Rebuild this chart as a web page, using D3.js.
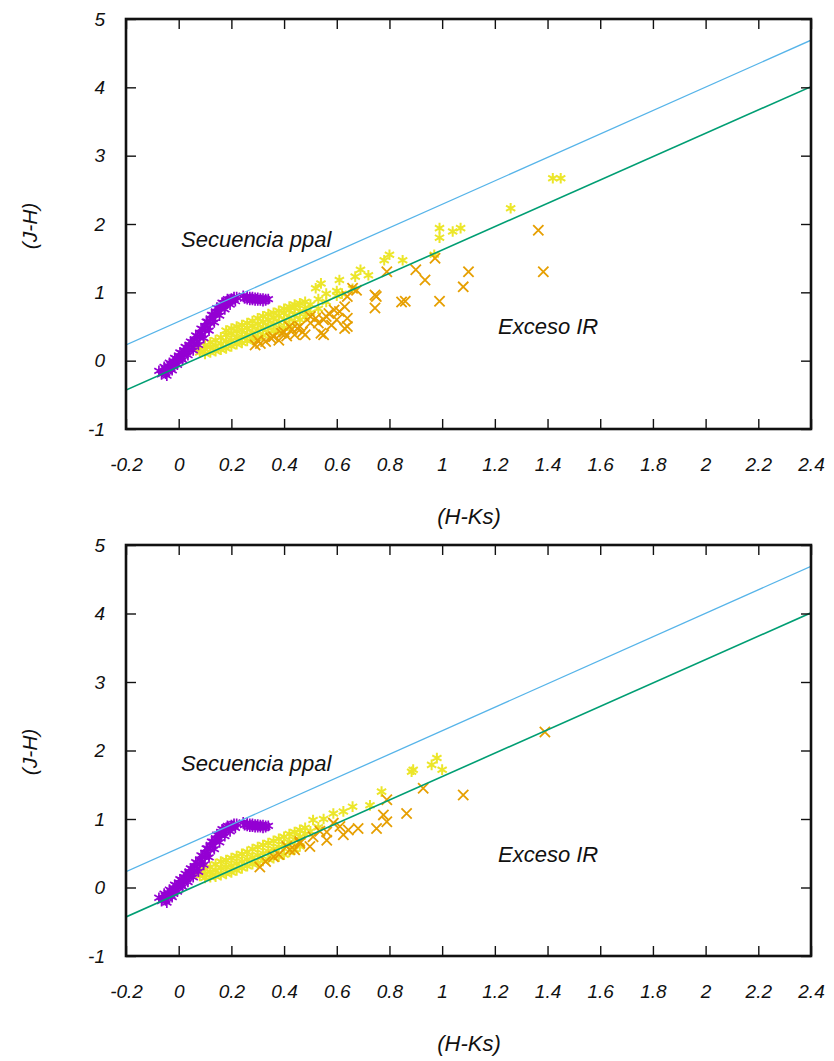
<!DOCTYPE html>
<html><head><meta charset="utf-8">
<script src="https://cdn.jsdelivr.net/npm/d3@7"></script>
<style>
html,body{margin:0;padding:0;background:#fff;}
text{font-family:"Liberation Sans",Arial,Helvetica,sans-serif;font-style:italic;fill:#111;}
</style></head>
<body><svg id="chart" width="834" height="1061"></svg>
<script>
// ---------- data ----------
const xTicks = [-0.2, 0, 0.2, 0.4, 0.6, 0.8, 1, 1.2, 1.4, 1.6, 1.8, 2, 2.2, 2.4];
const yTicks = [-1, 0, 1, 2, 3, 4, 5];
const xLabel = "(H-Ks)";
const yLabel = "(J-H)";
const labelSeq = "Secuencia ppal";
const labelExc = "Exceso IR";

// reddening band limits (x at ends, y at ends)
const bandX = [-0.2, 2.4];
const upperBandY = [0.23, 4.69];
const lowerBandY = [-0.43, 4.01];

// intrinsic main-sequence / giant locus (purple)
const locus = [
  [-0.065,-0.20],[-0.06,-0.16],[-0.05,-0.19],[-0.05,-0.12],[-0.04,-0.15],[-0.04,-0.08],[-0.03,-0.11],[-0.03,-0.05],
  [-0.02,-0.08],[-0.02,-0.01],[-0.01,-0.04],[-0.01,0.03],[0.0,0.0],[0.0,0.07],[0.01,0.04],[0.01,0.11],
  [0.02,0.08],[0.02,0.15],[0.03,0.12],[0.03,0.19],[0.04,0.16],[0.04,0.23],[0.05,0.20],[0.05,0.27],
  [0.06,0.24],[0.06,0.31],[0.07,0.28],[0.07,0.36],[0.08,0.33],[0.08,0.41],[0.09,0.38],[0.09,0.46],
  [0.10,0.44],[0.10,0.51],[0.11,0.49],[0.11,0.57],[0.12,0.55],[0.12,0.62],[0.13,0.61],[0.13,0.67],
  [0.14,0.67],[0.14,0.72],[0.15,0.72],[0.15,0.77],[0.16,0.76],[0.16,0.81],[0.17,0.80],[0.17,0.84],
  [0.18,0.84],[0.18,0.87],[0.19,0.86],[0.19,0.89],[0.20,0.88],[0.20,0.91],[0.21,0.90],[0.21,0.93],[0.22,0.93],
  [-0.045,-0.22],[-0.025,-0.14],[-0.005,-0.06],[0.015,0.01],[0.035,0.08],[0.055,0.15],[0.075,0.23],
  [0.095,0.33],[0.115,0.44],[0.135,0.56],[0.155,0.66],[0.175,0.75],[0.195,0.82],[0.215,0.87],
  [-0.075,-0.15],[-0.055,-0.09],[-0.035,-0.03],[-0.015,0.04],[0.005,0.12],[0.025,0.20],[0.045,0.28],
  [0.065,0.37],[0.085,0.47],[0.105,0.57],[0.125,0.67],[0.145,0.77],[0.165,0.85],[0.185,0.90],
  [0.245,0.95],[0.25,0.91],[0.26,0.94],[0.26,0.90],[0.27,0.93],[0.27,0.89],[0.28,0.93],[0.28,0.89],
  [0.29,0.92],[0.29,0.88],[0.30,0.92],[0.30,0.88],[0.31,0.91],[0.31,0.88],[0.32,0.91],[0.32,0.87],
  [0.33,0.90],[0.33,0.88],[0.34,0.90]
];

// top panel: yellow (CTTS-like) and orange (IR excess) stars
const topYellow = [
  [0.08,0.12],[0.08,0.16],[0.10,0.10],[0.10,0.17],[0.10,0.22],[0.12,0.12],[0.12,0.20],[0.12,0.27],
  [0.14,0.14],[0.14,0.22],[0.14,0.30],[0.16,0.16],[0.16,0.25],[0.16,0.34],[0.18,0.18],[0.18,0.28],[0.18,0.38],[0.18,0.44],
  [0.20,0.21],[0.20,0.30],[0.20,0.40],[0.20,0.47],[0.22,0.24],[0.22,0.33],[0.22,0.43],[0.22,0.50],
  [0.24,0.26],[0.24,0.35],[0.24,0.45],[0.24,0.52],[0.26,0.29],[0.26,0.38],[0.26,0.48],[0.26,0.55],
  [0.28,0.31],[0.28,0.41],[0.28,0.51],[0.28,0.58],[0.30,0.34],[0.30,0.44],[0.30,0.54],[0.30,0.62],
  [0.32,0.37],[0.32,0.47],[0.32,0.57],[0.32,0.65],[0.34,0.40],[0.34,0.50],[0.34,0.60],[0.34,0.68],
  [0.36,0.43],[0.36,0.53],[0.36,0.63],[0.36,0.70],[0.38,0.45],[0.38,0.56],[0.38,0.66],[0.38,0.73],
  [0.40,0.48],[0.40,0.60],[0.40,0.70],[0.40,0.76],[0.42,0.52],[0.42,0.63],[0.42,0.74],[0.42,0.79],
  [0.44,0.56],[0.44,0.67],[0.44,0.78],[0.44,0.82],[0.46,0.60],[0.46,0.72],[0.46,0.84],[0.48,0.64],[0.48,0.76],[0.48,0.86],
  [0.50,0.70],[0.50,0.82],[0.53,0.76],[0.53,0.90],[0.56,0.86],[0.56,0.98],[0.60,0.95],[0.60,1.02],
  [0.52,1.06],[0.54,1.13],[0.61,1.18],[0.62,0.98],[0.66,1.05],[0.67,1.23],[0.69,1.33],[0.72,1.25],
  [0.78,1.47],[0.80,1.55],[0.85,1.47],[0.97,1.55],[0.99,1.94],[1.04,1.89],[1.07,1.94],[0.99,1.80],
  [1.26,2.23],[1.42,2.67],[1.45,2.67]
];
const topOrange = [
  [0.29,0.23],[0.31,0.25],[0.30,0.30],[0.33,0.28],[0.35,0.33],[0.36,0.35],[0.38,0.30],[0.39,0.40],
  [0.40,0.42],[0.41,0.36],[0.42,0.50],[0.43,0.46],[0.44,0.38],[0.45,0.47],[0.46,0.50],[0.47,0.42],
  [0.48,0.38],[0.50,0.55],[0.50,0.645],[0.52,0.62],[0.53,0.55],[0.54,0.40],[0.55,0.60],[0.55,0.38],
  [0.56,0.645],[0.57,0.69],[0.58,0.52],[0.59,0.74],[0.60,0.60],[0.61,0.72],[0.63,0.79],[0.63,0.47],
  [0.64,0.62],[0.64,0.94],[0.64,0.50],[0.66,1.06],[0.675,1.03],[0.745,0.96],[0.745,0.77],[0.75,0.94],
  [0.79,1.30],[0.846,0.86],[0.86,0.87],[0.90,1.33],[0.935,1.18],[0.973,1.50],[0.99,0.87],[1.08,1.08],
  [1.10,1.30],[1.365,1.91],[1.384,1.30]
];

// bottom panel
const botYellow = [
  [0.08,0.17],[0.08,0.22],[0.10,0.14],[0.10,0.20],[0.10,0.26],[0.12,0.15],[0.12,0.23],[0.12,0.30],
  [0.14,0.16],[0.14,0.25],[0.14,0.34],[0.16,0.18],[0.16,0.28],[0.16,0.38],[0.18,0.20],[0.18,0.30],[0.18,0.40],
  [0.20,0.22],[0.20,0.32],[0.20,0.43],[0.22,0.25],[0.22,0.35],[0.22,0.46],[0.24,0.28],[0.24,0.38],[0.24,0.49],
  [0.26,0.31],[0.26,0.41],[0.26,0.52],[0.28,0.34],[0.28,0.44],[0.28,0.56],[0.30,0.36],[0.30,0.47],[0.30,0.59],
  [0.32,0.39],[0.32,0.50],[0.32,0.62],[0.34,0.41],[0.34,0.53],[0.34,0.65],[0.36,0.43],[0.36,0.56],[0.36,0.68],
  [0.38,0.45],[0.38,0.59],[0.38,0.71],[0.40,0.48],[0.40,0.62],[0.40,0.74],[0.42,0.52],[0.42,0.66],[0.42,0.78],
  [0.44,0.56],[0.44,0.70],[0.44,0.81],[0.46,0.60],[0.46,0.74],[0.46,0.84],[0.48,0.78],[0.48,0.87],
  [0.50,0.82],[0.51,0.985],[0.53,0.88],[0.55,1.0],[0.587,1.08],[0.625,1.11],[0.66,1.18],[0.726,1.20],
  [0.77,1.40],[0.884,1.69],[0.89,1.72],[0.96,1.79],[0.98,1.89],[1.0,1.72]
];
const botOrange = [
  [0.308,0.30],[0.33,0.38],[0.36,0.45],[0.38,0.48],[0.41,0.60],[0.422,0.55],[0.44,0.55],[0.46,0.645],
  [0.46,0.67],[0.498,0.60],[0.51,0.74],[0.536,0.82],[0.562,0.69],[0.562,0.81],[0.587,0.94],[0.612,0.89],
  [0.625,0.77],[0.644,0.84],[0.681,0.86],[0.751,0.86],[0.777,1.06],[0.79,0.96],[0.79,1.28],[0.865,1.08],
  [0.928,1.45],[1.08,1.35],[1.39,2.27]
];

// ---------- drawing ----------
const svg = d3.select("#chart");
svg.append("rect").attr("width",834).attr("height",1061).attr("fill","#fff");

const colors = {locus:"#9400d3", yellow:"#ece62a", orange:"#e69f00", upper:"#56b4e9", lower:"#009e73"};

const panels = [
  {top:19, bottom:429, yellow:topYellow, orange:topOrange, seqY:247, excY:334, yLabY:226, xLabY:524},
  {top:545, bottom:956, yellow:botYellow, orange:botOrange, seqY:771, excY:862, yLabY:752, xLabY:1051}
];
const left = 126, right = 811;

const asterisk = d3.symbol().type(d3.symbolAsterisk).size(80)();
const cross = d3.symbol().type(d3.symbolX).size(70)();
const fmt = d => d3.format("~g")(d).replace("\u2212","-");

panels.forEach((p,i) => {
  const x = d3.scaleLinear().domain([-0.2, 2.4]).range([left, right]);
  const y = d3.scaleLinear().domain([-1, 5]).range([p.bottom, p.top]);
  const g = svg.append("g");
  const clipId = "clip"+i;
  g.append("clipPath").attr("id",clipId).append("rect")
    .attr("x",left).attr("y",p.top).attr("width",right-left).attr("height",p.bottom-p.top);
  const plot = g.append("g").attr("clip-path",`url(#${clipId})`);

  plot.append("g").selectAll("path").data(p.yellow).join("path")
    .attr("d", asterisk).attr("transform", d=>`translate(${x(d[0])},${y(d[1])})`)
    .attr("fill","none").attr("stroke",colors.yellow).attr("stroke-width",2);
  plot.append("g").selectAll("path").data(p.orange).join("path")
    .attr("d", cross).attr("transform", d=>`translate(${x(d[0])},${y(d[1])})`)
    .attr("fill","none").attr("stroke",colors.orange).attr("stroke-width",1.8);
  plot.append("g").selectAll("path").data(locus).join("path")
    .attr("d", asterisk).attr("transform", d=>`translate(${x(d[0])},${y(d[1])})`)
    .attr("fill","none").attr("stroke",colors.locus).attr("stroke-width",1.7);

  const line = d3.line().x(d=>x(d[0])).y(d=>y(d[1]));
  plot.append("path").datum(bandX.map((v,k)=>[v, upperBandY[k]])).attr("d",line)
    .attr("fill","none").attr("stroke",colors.upper).attr("stroke-width",1.3);
  plot.append("path").datum(bandX.map((v,k)=>[v, lowerBandY[k]])).attr("d",line)
    .attr("fill","none").attr("stroke",colors.lower).attr("stroke-width",1.6);

  // axes (ticks inward, mirrored)
  const tl = 10;
  const axB = d3.axisBottom(x).tickValues(xTicks).tickSize(-tl).tickPadding(29).tickFormat(fmt);
  const axT = d3.axisTop(x).tickValues(xTicks).tickSize(-tl).tickFormat("");
  const axL = d3.axisLeft(y).tickValues(yTicks).tickSize(-tl).tickPadding(21).tickFormat(fmt);
  const axR = d3.axisRight(y).tickValues(yTicks).tickSize(-tl).tickFormat("");
  const gb = g.append("g").attr("transform",`translate(0,${p.bottom})`).call(axB);
  const gt = g.append("g").attr("transform",`translate(0,${p.top})`).call(axT);
  const gl = g.append("g").attr("transform",`translate(${left},0)`).call(axL);
  const gr = g.append("g").attr("transform",`translate(${right},0)`).call(axR);
  [gb,gt,gl,gr].forEach(a=>{
    a.select(".domain").remove();
    a.selectAll(".tick line").attr("stroke","#111").attr("stroke-width",1.4);
    a.selectAll("text").attr("font-size",19).attr("font-family",'"Liberation Sans",Arial,sans-serif')
      .attr("font-style","italic").attr("fill","#111");
  });
  // frame
  g.append("rect").attr("x",left).attr("y",p.top).attr("width",right-left).attr("height",p.bottom-p.top)
    .attr("fill","none").attr("stroke","#111").attr("stroke-width",2.6);

  g.append("text").attr("x",181).attr("y",p.seqY).attr("font-size",22).text(labelSeq);
  g.append("text").attr("x",498).attr("y",p.excY).attr("font-size",22).text(labelExc);
  g.append("text").attr("x",469).attr("y",p.xLabY).attr("text-anchor","middle").attr("font-size",22).text(xLabel);
  g.append("text").attr("transform",`translate(37,${p.yLabY}) rotate(-90)`).attr("text-anchor","middle")
    .attr("font-size",21).text(yLabel);
});
</script></body></html>
